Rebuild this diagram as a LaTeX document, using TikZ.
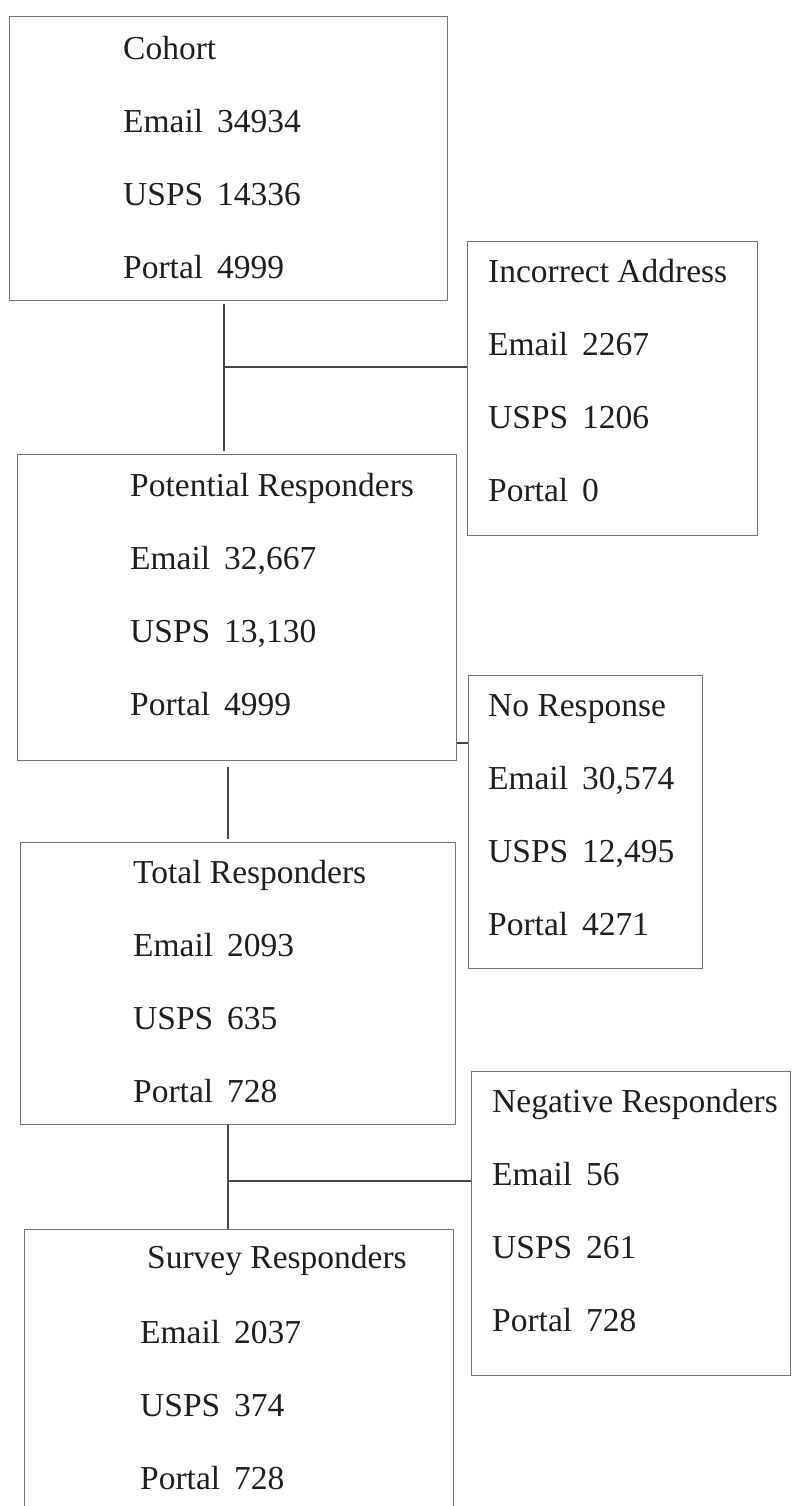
\documentclass[tikz,border=0pt]{standalone}
\usepackage{fontspec}
\setmainfont{Liberation Serif}
\usetikzlibrary{positioning}
\newcommand\entry[2]{\makebox[94pt][l]{#1}#2}

\begin{document}
\begin{tikzpicture}[x=1pt,y=-1pt,
  box/.style={draw=black!55,line width=1.4pt,inner sep=0pt,anchor=north west},
  txt/.style={anchor=north west,inner sep=0pt,align=left,text=black!88,
    font=\fontsize{33.5}{73}\selectfont},
  link/.style={draw=black!72,line width=1.2pt}]
  \useasboundingbox (0,0) rectangle (792,1506);
  \clip (0,0) rectangle (792,1506);

  % boxes
  \node[box,minimum width=438pt,minimum height=284pt] (cohort) at (9,16) {};
  \node[box,minimum width=290pt,minimum height=294pt] (incorrect) at (467,241) {};
  \node[box,minimum width=439pt,minimum height=306pt] (potential) at (17,454) {};
  \node[box,minimum width=234pt,minimum height=293pt] (noresp) at (468,675) {};
  \node[box,minimum width=435pt,minimum height=282pt] (total) at (20,842) {};
  \node[box,minimum width=319pt,minimum height=304pt] (negative) at (471,1071) {};
  \node[box,minimum width=429pt,minimum height=300pt] (survey) at (24,1229) {};

  % counts
  \node[txt] (cohort-t) at ([shift={(114,20)}]cohort.north west)
    {Cohort\\ \entry{Email}{34934}\\ \entry{USPS}{14336}\\ \entry{Portal}{4999}};
  \node[txt] (incorrect-t) at ([shift={(21,18)}]incorrect.north west)
    {Incorrect Address\\ \entry{Email}{2267}\\ \entry{USPS}{1206}\\ \entry{Portal}{0}};
  \node[txt] (potential-t) at ([shift={(113,19)}]potential.north west)
    {Potential Responders\\ \entry{Email}{32,667}\\ \entry{USPS}{13,130}\\ \entry{Portal}{4999}};
  \node[txt] (noresp-t) at ([shift={(20,19)}]noresp.north west)
    {No Response\\ \entry{Email}{30,574}\\ \entry{USPS}{12,495}\\ \entry{Portal}{4271}};
  \node[txt] (total-t) at ([shift={(113,18)}]total.north west)
    {Total Responders\\ \entry{Email}{2093}\\ \entry{USPS}{635}\\ \entry{Portal}{728}};
  \node[txt] (negative-t) at ([shift={(21,18)}]negative.north west)
    {Negative Responders\\ \entry{Email}{56}\\ \entry{USPS}{261}\\ \entry{Portal}{728}};
  \node[txt] (survey-t) at ([shift={(116,16)}]survey.north west)
    {\hspace{7pt}Survey Responders\\[2pt] \entry{Email}{2037}\\ \entry{USPS}{374}\\ \entry{Portal}{728}};

  % connectors
  \coordinate (j1) at (224,367);
  \coordinate (j2) at (460,743);
  \coordinate (j3) at (228,800);
  \coordinate (j4) at (228,1181);
  \draw[link,shorten <=3pt,shorten >=3pt] (cohort.south -| j1) -- (potential.north -| j1);
  \draw[link] (j1) -- (j1 -| incorrect.west);
  \draw[link] (j2 -| potential.east) -- (j2 -| noresp.west);
  \draw[link,shorten <=6pt,shorten >=3pt] (potential.south -| j3) -- (total.north -| j3);
  \draw[link] (total.south -| j4) -- (survey.north -| j4);
  \draw[link] (j4) -- (j4 -| negative.west);
\end{tikzpicture}
\end{document}
